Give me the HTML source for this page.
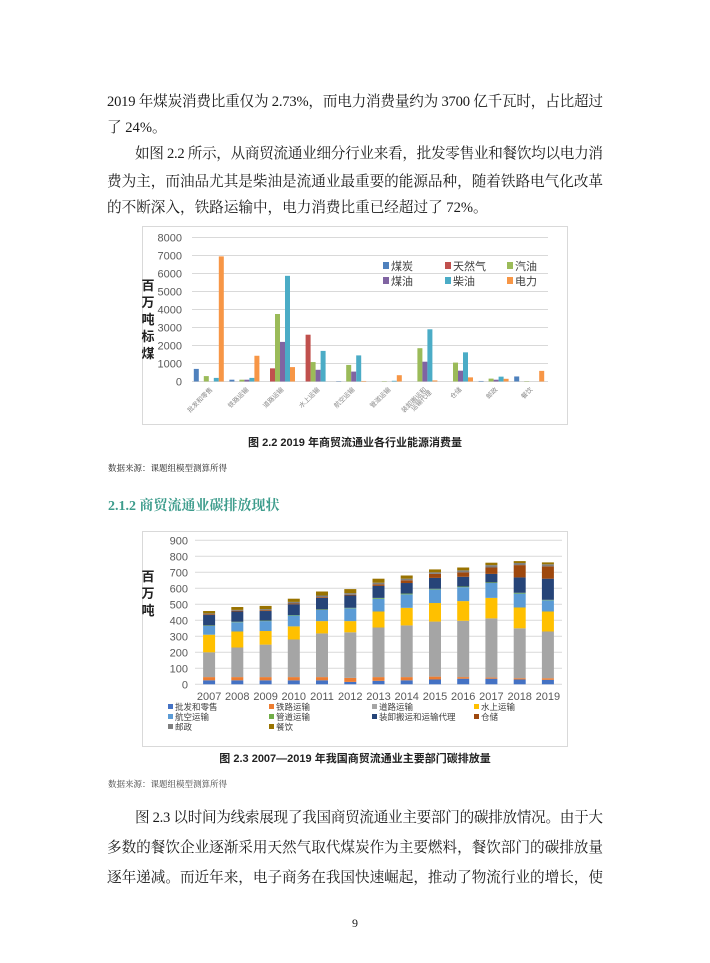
<!DOCTYPE html>
<html><head><meta charset="utf-8"><style>
body{margin:0;background:#fff}
svg{display:block}
.b{font-family:"Liberation Serif","Noto Serif CJK SC",serif;font-size:14.6px;fill:#1a1a1a}
.s{font-family:"Liberation Sans","Noto Sans CJK SC",sans-serif}
.t{font-size:11px;fill:#595959}
.a{fill:#4472C4}.c1{fill:#ED7D31}.c2{fill:#A5A5A5}.c3{fill:#FFC000}.c4{fill:#5B9BD5}.c5{fill:#70AD47}.c6{fill:#264478}.c7{fill:#9E480E}.c8{fill:#7F7F7F}.c9{fill:#997300}
.k1{fill:#4F81BD}.k2{fill:#C0504D}.k3{fill:#9BBB59}.k4{fill:#8064A2}.k5{fill:#4BACC6}.k6{fill:#F79646}
.g{stroke:#d9d9d9;stroke-width:1}
</style></head><body>
<svg width="710" height="963" viewBox="0 0 710 963" xmlns="http://www.w3.org/2000/svg">
<rect width="710" height="963" fill="#fff"/>
<!-- paragraph text -->
<text class="b" x="107" y="106" textLength="496" lengthAdjust="spacing">2019 年煤炭消费比重仅为 2.73%，而电力消费量约为 3700 亿千瓦时，占比超过</text>
<text class="b" x="107" y="132">了 24%。</text>
<text class="b" x="135" y="158" textLength="468" lengthAdjust="spacing">如图 2.2 所示，从商贸流通业细分行业来看，批发零售业和餐饮均以电力消</text>
<text class="b" x="107" y="186" textLength="496" lengthAdjust="spacing">费为主，而油品尤其是柴油是流通业最重要的能源品种，随着铁路电气化改革</text>
<text class="b" x="107" y="212">的不断深入，铁路运输中，电力消费比重已经超过了 72%。</text>

<!-- chart 1 -->
<rect x="142.5" y="226.5" width="425" height="198" fill="#fff" stroke="#d9d9d9"/>
<g class="g">
<line x1="192" x2="548" y1="381.5" y2="381.5"/><line x1="192" x2="548" y1="363.5" y2="363.5"/><line x1="192" x2="548" y1="345.5" y2="345.5"/><line x1="192" x2="548" y1="327.5" y2="327.5"/><line x1="192" x2="548" y1="309.5" y2="309.5"/><line x1="192" x2="548" y1="291.5" y2="291.5"/><line x1="192" x2="548" y1="273.5" y2="273.5"/><line x1="192" x2="548" y1="255.5" y2="255.5"/><line x1="192" x2="548" y1="237.5" y2="237.5"/>
</g>
<g class="s t" text-anchor="end">
<text x="182" y="385.5">0</text><text x="182" y="367.5">1000</text><text x="182" y="349.5">2000</text><text x="182" y="331.5">3000</text><text x="182" y="313.5">4000</text><text x="182" y="295.5">5000</text><text x="182" y="277.5">6000</text><text x="182" y="259.5">7000</text><text x="182" y="241.5">8000</text>
</g>
<g class="s" font-size="13" font-weight="bold" fill="#222" text-anchor="middle">
<text x="148" y="290">百</text><text x="148" y="307">万</text><text x="148" y="324">吨</text><text x="148" y="341">标</text><text x="148" y="358">煤</text>
</g>
<g transform="translate(193.8,381.5) scale(1,-0.018)"><rect class="k1" x="0" width="5" height="700"/><rect class="k3" x="10" width="5" height="300"/><rect class="k5" x="20" width="5" height="200"/><rect class="k6" x="25" width="5" height="6950"/></g>
<g transform="translate(229.4,381.5) scale(1,-0.018)"><rect class="k1" x="0" width="5" height="100"/><rect class="k3" x="10" width="5" height="100"/><rect class="k4" x="15" width="5" height="100"/><rect class="k5" x="20" width="5" height="200"/><rect class="k6" x="25" width="5" height="1430"/></g>
<g transform="translate(265.0,381.5) scale(1,-0.018)"><rect class="k2" x="5" width="5" height="730"/><rect class="k3" x="10" width="5" height="3750"/><rect class="k4" x="15" width="5" height="2200"/><rect class="k5" x="20" width="5" height="5870"/><rect class="k6" x="25" width="5" height="800"/></g>
<g transform="translate(300.6,381.5) scale(1,-0.018)"><rect class="k2" x="5" width="5" height="2600"/><rect class="k3" x="10" width="5" height="1080"/><rect class="k4" x="15" width="5" height="650"/><rect class="k5" x="20" width="5" height="1700"/></g>
<g transform="translate(336.2,381.5) scale(1,-0.018)"><rect class="k1" x="0" width="5" height="20"/><rect class="k3" x="10" width="5" height="920"/><rect class="k4" x="15" width="5" height="550"/><rect class="k5" x="20" width="5" height="1450"/><rect class="k6" x="25" width="5" height="30"/></g>
<g transform="translate(371.8,381.5) scale(1,-0.018)"><rect class="k3" x="10" width="5" height="20"/><rect class="k5" x="20" width="5" height="40"/><rect class="k6" x="25" width="5" height="350"/></g>
<g transform="translate(407.4,381.5) scale(1,-0.018)"><rect class="k3" x="10" width="5" height="1850"/><rect class="k4" x="15" width="5" height="1100"/><rect class="k5" x="20" width="5" height="2900"/><rect class="k6" x="25" width="5" height="60"/></g>
<g transform="translate(443.0,381.5) scale(1,-0.018)"><rect class="k3" x="10" width="5" height="1050"/><rect class="k4" x="15" width="5" height="600"/><rect class="k5" x="20" width="5" height="1620"/><rect class="k6" x="25" width="5" height="230"/></g>
<g transform="translate(478.6,381.5) scale(1,-0.018)"><rect class="k1" x="0" width="5" height="30"/><rect class="k3" x="10" width="5" height="160"/><rect class="k4" x="15" width="5" height="100"/><rect class="k5" x="20" width="5" height="270"/><rect class="k6" x="25" width="5" height="150"/></g>
<g transform="translate(514.2,381.5) scale(1,-0.018)"><rect class="k1" x="0" width="5" height="280"/><rect class="k3" x="10" width="5" height="20"/><rect class="k6" x="25" width="5" height="590"/></g>
<g class="s" font-size="6.5" fill="#8a8a8a" text-anchor="end">
<text transform="translate(213,390) rotate(-45)">批发和零售</text>
<text transform="translate(249,390) rotate(-45)">铁路运输</text>
<text transform="translate(284,390) rotate(-45)">道路运输</text>
<text transform="translate(320,390) rotate(-45)">水上运输</text>
<text transform="translate(355,390) rotate(-45)">航空运输</text>
<text transform="translate(391,390) rotate(-45)">管道运输</text>
<text transform="translate(427,390) rotate(-45)">装卸搬运和</text>
<text transform="translate(432,393) rotate(-45)">运输代理</text>
<text transform="translate(462,390) rotate(-45)">仓储</text>
<text transform="translate(498,390) rotate(-45)">邮政</text>
<text transform="translate(533,390) rotate(-45)">餐饮</text>
</g>
<g class="s" font-size="11" fill="#404040">
<rect class="k1" x="383" y="262" width="6" height="7"/><text x="391" y="270">煤炭</text>
<rect class="k2" x="445" y="262" width="6" height="7"/><text x="453" y="270">天然气</text>
<rect class="k3" x="507" y="262" width="6" height="7"/><text x="515" y="270">汽油</text>
<rect class="k4" x="383" y="277" width="6" height="7"/><text x="391" y="285">煤油</text>
<rect class="k5" x="445" y="277" width="6" height="7"/><text x="453" y="285">柴油</text>
<rect class="k6" x="507" y="277" width="6" height="7"/><text x="515" y="285">电力</text>
</g>
<text class="s" x="355" y="446" font-size="11" font-weight="bold" fill="#222" text-anchor="middle">图 2.2  2019 年商贸流通业各行业能源消费量</text>
<text class="b" x="108" y="471" font-size="8.5" fill="#444" style="font-size:8.5px">数据来源：课题组模型测算所得</text>
<text class="b" x="108" y="510" style="font-size:14px;font-weight:bold;fill:#3d9c8c">2.1.2 商贸流通业碳排放现状</text>

<!-- chart 2 -->
<rect x="142.5" y="531.5" width="425" height="215" fill="#fff" stroke="#d9d9d9"/>
<g class="g">
<line x1="195" x2="562" y1="684.3" y2="684.3"/><line x1="195" x2="562" y1="668.3" y2="668.3"/><line x1="195" x2="562" y1="652.3" y2="652.3"/><line x1="195" x2="562" y1="636.3" y2="636.3"/><line x1="195" x2="562" y1="620.3" y2="620.3"/><line x1="195" x2="562" y1="604.3" y2="604.3"/><line x1="195" x2="562" y1="588.3" y2="588.3"/><line x1="195" x2="562" y1="572.3" y2="572.3"/><line x1="195" x2="562" y1="556.3" y2="556.3"/><line x1="195" x2="562" y1="540.3" y2="540.3"/>
</g>
<g class="s t" text-anchor="end">
<text x="188" y="688.3">0</text><text x="188" y="672.3">100</text><text x="188" y="656.3">200</text><text x="188" y="640.3">300</text><text x="188" y="624.3">400</text><text x="188" y="608.3">500</text><text x="188" y="592.3">600</text><text x="188" y="576.3">700</text><text x="188" y="560.3">800</text><text x="188" y="544.3">900</text>
</g>
<g class="s" font-size="13" font-weight="bold" fill="#222" text-anchor="middle">
<text x="148" y="581">百</text><text x="148" y="598">万</text><text x="148" y="615">吨</text>
</g>
<g transform="translate(203.1,684.3) scale(1,-0.16)"><rect class="a" y="0" width="12" height="25"/><rect class="c1" y="25" width="12" height="20"/><rect class="c2" y="45" width="12" height="155"/><rect class="c3" y="200" width="12" height="110"/><rect class="c4" y="310" width="12" height="55"/><rect class="c5" y="365" width="12" height="3"/><rect class="c6" y="368" width="12" height="65"/><rect class="c7" y="433" width="12" height="5"/><rect class="c8" y="438" width="12" height="5"/><rect class="c9" y="443" width="12" height="15"/></g>
<g transform="translate(231.3,684.3) scale(1,-0.16)"><rect class="a" y="0" width="12" height="25"/><rect class="c1" y="25" width="12" height="20"/><rect class="c2" y="45" width="12" height="185"/><rect class="c3" y="230" width="12" height="100"/><rect class="c4" y="330" width="12" height="58"/><rect class="c5" y="388" width="12" height="3"/><rect class="c6" y="391" width="12" height="64"/><rect class="c7" y="455" width="12" height="5"/><rect class="c8" y="460" width="12" height="5"/><rect class="c9" y="465" width="12" height="18"/></g>
<g transform="translate(259.6,684.3) scale(1,-0.16)"><rect class="a" y="0" width="12" height="25"/><rect class="c1" y="25" width="12" height="20"/><rect class="c2" y="45" width="12" height="203"/><rect class="c3" y="248" width="12" height="85"/><rect class="c4" y="333" width="12" height="62"/><rect class="c5" y="395" width="12" height="3"/><rect class="c6" y="398" width="12" height="60"/><rect class="c7" y="458" width="12" height="5"/><rect class="c8" y="463" width="12" height="7"/><rect class="c9" y="470" width="12" height="20"/></g>
<g transform="translate(287.8,684.3) scale(1,-0.16)"><rect class="a" y="0" width="12" height="25"/><rect class="c1" y="25" width="12" height="20"/><rect class="c2" y="45" width="12" height="235"/><rect class="c3" y="280" width="12" height="82"/><rect class="c4" y="362" width="12" height="68"/><rect class="c5" y="430" width="12" height="3"/><rect class="c6" y="433" width="12" height="67"/><rect class="c7" y="500" width="12" height="5"/><rect class="c8" y="505" width="12" height="10"/><rect class="c9" y="515" width="12" height="20"/></g>
<g transform="translate(316.0,684.3) scale(1,-0.16)"><rect class="a" y="0" width="12" height="25"/><rect class="c1" y="25" width="12" height="20"/><rect class="c2" y="45" width="12" height="273"/><rect class="c3" y="318" width="12" height="77"/><rect class="c4" y="395" width="12" height="70"/><rect class="c5" y="465" width="12" height="3"/><rect class="c6" y="468" width="12" height="72"/><rect class="c7" y="540" width="12" height="5"/><rect class="c8" y="545" width="12" height="10"/><rect class="c9" y="555" width="12" height="25"/></g>
<g transform="translate(344.3,684.3) scale(1,-0.16)"><rect class="a" y="0" width="12" height="15"/><rect class="c1" y="15" width="12" height="25"/><rect class="c2" y="40" width="12" height="285"/><rect class="c3" y="325" width="12" height="70"/><rect class="c4" y="395" width="12" height="80"/><rect class="c5" y="475" width="12" height="3"/><rect class="c6" y="478" width="12" height="77"/><rect class="c7" y="555" width="12" height="5"/><rect class="c8" y="560" width="12" height="10"/><rect class="c9" y="570" width="12" height="25"/></g>
<g transform="translate(372.5,684.3) scale(1,-0.16)"><rect class="a" y="0" width="12" height="22"/><rect class="c1" y="22" width="12" height="23"/><rect class="c2" y="45" width="12" height="310"/><rect class="c3" y="355" width="12" height="100"/><rect class="c4" y="455" width="12" height="80"/><rect class="c5" y="535" width="12" height="5"/><rect class="c6" y="540" width="12" height="75"/><rect class="c7" y="615" width="12" height="10"/><rect class="c8" y="625" width="12" height="10"/><rect class="c9" y="635" width="12" height="25"/></g>
<g transform="translate(400.7,684.3) scale(1,-0.16)"><rect class="a" y="0" width="12" height="25"/><rect class="c1" y="25" width="12" height="20"/><rect class="c2" y="45" width="12" height="323"/><rect class="c3" y="368" width="12" height="110"/><rect class="c4" y="478" width="12" height="84"/><rect class="c5" y="562" width="12" height="5"/><rect class="c6" y="567" width="12" height="66"/><rect class="c7" y="633" width="12" height="17"/><rect class="c8" y="650" width="12" height="10"/><rect class="c9" y="660" width="12" height="20"/></g>
<g transform="translate(429.0,684.3) scale(1,-0.16)"><rect class="a" y="0" width="12" height="30"/><rect class="c1" y="30" width="12" height="18"/><rect class="c2" y="48" width="12" height="344"/><rect class="c3" y="392" width="12" height="116"/><rect class="c4" y="508" width="12" height="85"/><rect class="c5" y="593" width="12" height="4"/><rect class="c6" y="597" width="12" height="68"/><rect class="c7" y="665" width="12" height="25"/><rect class="c8" y="690" width="12" height="10"/><rect class="c9" y="700" width="12" height="18"/></g>
<g transform="translate(457.2,684.3) scale(1,-0.16)"><rect class="a" y="0" width="12" height="35"/><rect class="c1" y="35" width="12" height="10"/><rect class="c2" y="45" width="12" height="352"/><rect class="c3" y="397" width="12" height="123"/><rect class="c4" y="520" width="12" height="87"/><rect class="c5" y="607" width="12" height="4"/><rect class="c6" y="611" width="12" height="61"/><rect class="c7" y="672" width="12" height="28"/><rect class="c8" y="700" width="12" height="12"/><rect class="c9" y="712" width="12" height="18"/></g>
<g transform="translate(485.4,684.3) scale(1,-0.16)"><rect class="a" y="0" width="12" height="35"/><rect class="c1" y="35" width="12" height="7"/><rect class="c2" y="42" width="12" height="370"/><rect class="c3" y="412" width="12" height="128"/><rect class="c4" y="540" width="12" height="93"/><rect class="c5" y="633" width="12" height="4"/><rect class="c6" y="637" width="12" height="53"/><rect class="c7" y="690" width="12" height="40"/><rect class="c8" y="730" width="12" height="15"/><rect class="c9" y="745" width="12" height="15"/></g>
<g transform="translate(513.7,684.3) scale(1,-0.16)"><rect class="a" y="0" width="12" height="30"/><rect class="c1" y="30" width="12" height="8"/><rect class="c2" y="38" width="12" height="312"/><rect class="c3" y="350" width="12" height="130"/><rect class="c4" y="480" width="12" height="87"/><rect class="c5" y="567" width="12" height="5"/><rect class="c6" y="572" width="12" height="96"/><rect class="c7" y="668" width="12" height="77"/><rect class="c8" y="745" width="12" height="13"/><rect class="c9" y="758" width="12" height="12"/></g>
<g transform="translate(541.9,684.3) scale(1,-0.16)"><rect class="a" y="0" width="12" height="28"/><rect class="c1" y="28" width="12" height="10"/><rect class="c2" y="38" width="12" height="292"/><rect class="c3" y="330" width="12" height="125"/><rect class="c4" y="455" width="12" height="70"/><rect class="c5" y="525" width="12" height="3"/><rect class="c6" y="528" width="12" height="132"/><rect class="c7" y="660" width="12" height="77"/><rect class="c8" y="737" width="12" height="13"/><rect class="c9" y="750" width="12" height="12"/></g>
<g class="s t" text-anchor="middle">
<text x="209.1" y="700">2007</text><text x="237.3" y="700">2008</text><text x="265.6" y="700">2009</text><text x="293.8" y="700">2010</text><text x="322.0" y="700">2011</text><text x="350.3" y="700">2012</text><text x="378.5" y="700">2013</text><text x="406.7" y="700">2014</text><text x="435.0" y="700">2015</text><text x="463.2" y="700">2016</text><text x="491.4" y="700">2017</text><text x="519.7" y="700">2018</text><text x="547.9" y="700">2019</text>
</g>
<g class="s" font-size="8.5" fill="#404040">
<rect class="a" x="168" y="704" width="5" height="5"/><text x="175" y="710">批发和零售</text>
<rect class="c1" x="269" y="704" width="5" height="5"/><text x="276" y="710">铁路运输</text>
<rect class="c2" x="372" y="704" width="5" height="5"/><text x="379" y="710">道路运输</text>
<rect class="c3" x="474" y="704" width="5" height="5"/><text x="481" y="710">水上运输</text>
<rect class="c4" x="168" y="714" width="5" height="5"/><text x="175" y="720">航空运输</text>
<rect class="c5" x="269" y="714" width="5" height="5"/><text x="276" y="720">管道运输</text>
<rect class="c6" x="372" y="714" width="5" height="5"/><text x="379" y="720">装卸搬运和运输代理</text>
<rect class="c7" x="474" y="714" width="5" height="5"/><text x="481" y="720">仓储</text>
<rect class="c8" x="168" y="724" width="5" height="5"/><text x="175" y="730">邮政</text>
<rect class="c9" x="269" y="724" width="5" height="5"/><text x="276" y="730">餐饮</text>
</g>
<text class="s" x="355" y="762" font-size="11" font-weight="bold" fill="#222" text-anchor="middle">图 2.3   2007—2019 年我国商贸流通业主要部门碳排放量</text>
<text class="b" x="108" y="787" style="font-size:8.5px;fill:#444">数据来源：课题组模型测算所得</text>

<text class="b" x="135" y="822" textLength="468" lengthAdjust="spacing">图 2.3 以时间为线索展现了我国商贸流通业主要部门的碳排放情况。由于大</text>
<text class="b" x="107" y="852" textLength="496" lengthAdjust="spacing">多数的餐饮企业逐渐采用天然气取代煤炭作为主要燃料，餐饮部门的碳排放量</text>
<text class="b" x="107" y="882" textLength="496" lengthAdjust="spacing">逐年递减。而近年来，电子商务在我国快速崛起，推动了物流行业的增长，使</text>
<text class="b" x="355" y="927" text-anchor="middle" style="font-size:12px">9</text>
</svg>
</body></html>
